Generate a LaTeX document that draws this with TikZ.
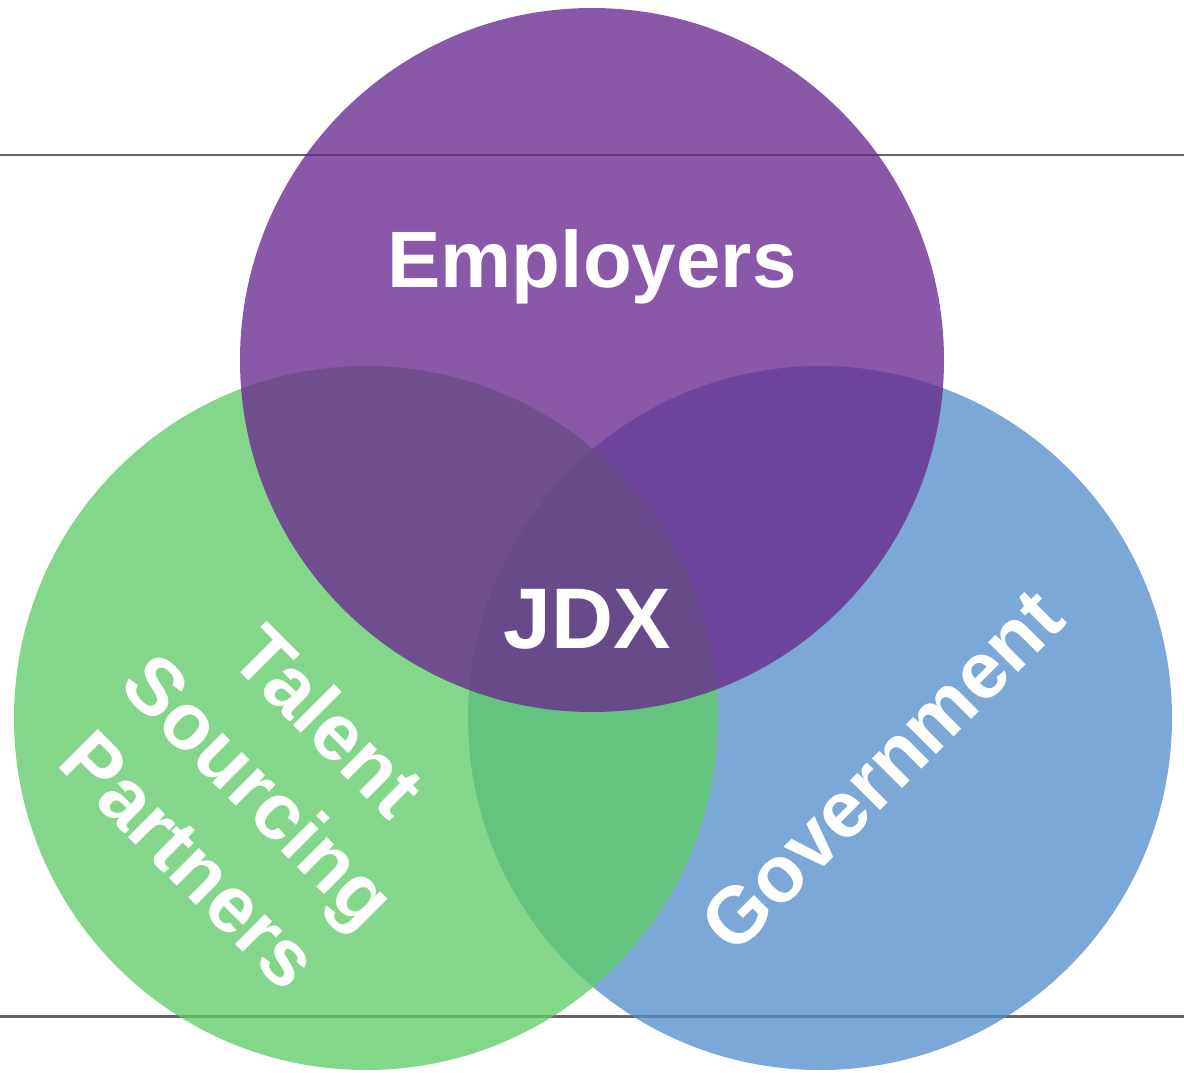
\documentclass[tikz,border=0pt]{standalone}
\usepackage{fontspec}
\setmainfont{Liberation Sans}
\definecolor{emppurple}{RGB}{104,38,142}
\definecolor{tspgreen}{RGB}{95,204,103}
\definecolor{govblue}{RGB}{84,143,202}
\definecolor{rulegray}{RGB}{100,100,100}

\begin{document}
\begin{tikzpicture}
  [x=0.5pt, y=-0.5pt,
   set circle/.style={circle, draw=none, inner sep=0pt, minimum size=352pt, fill opacity=0.77},
   set label/.style={text=white, font=\bfseries\fontsize{40}{49}\selectfont, align=center},
   rule line/.style={draw=rulegray, line width=1.2pt}]
  \fill[white] (0,0) rectangle (1184,1072);
  \useasboundingbox (0,0) rectangle (1184,1072);

  % rules behind the circles
  \coordinate (rule1a) at (0,155);
  \coordinate (rule1b) at (1184,155);
  \coordinate (rule2a) at (0,1016);
  \coordinate (rule2b) at (1184,1016);
  \draw[rule line] (rule1a) -- (rule1b);
  \draw[rule line, line width=1.5pt] (rule2a) -- (rule2b);

  \node[set circle, fill=govblue] (gov) at (820,718) {};
  \node[set circle, fill=tspgreen] (tsp) at (366,718) {};
  \node[set circle, fill=emppurple] (emp) at (592,360) {};

  \node[set label, anchor=base] (emptext) at (592,287) {Employers};
  \node[set label, anchor=base, font=\bfseries\fontsize{43}{53}\selectfont] (jdx) at (587,648) {JDX};
  \node[set label, rotate=45] (govtext) at (882,770) {Government};
  \node[set label, rotate=-45] (tsptext) at (260,790) {Talent\\Sourcing\\Partners};
\end{tikzpicture}
\end{document}
